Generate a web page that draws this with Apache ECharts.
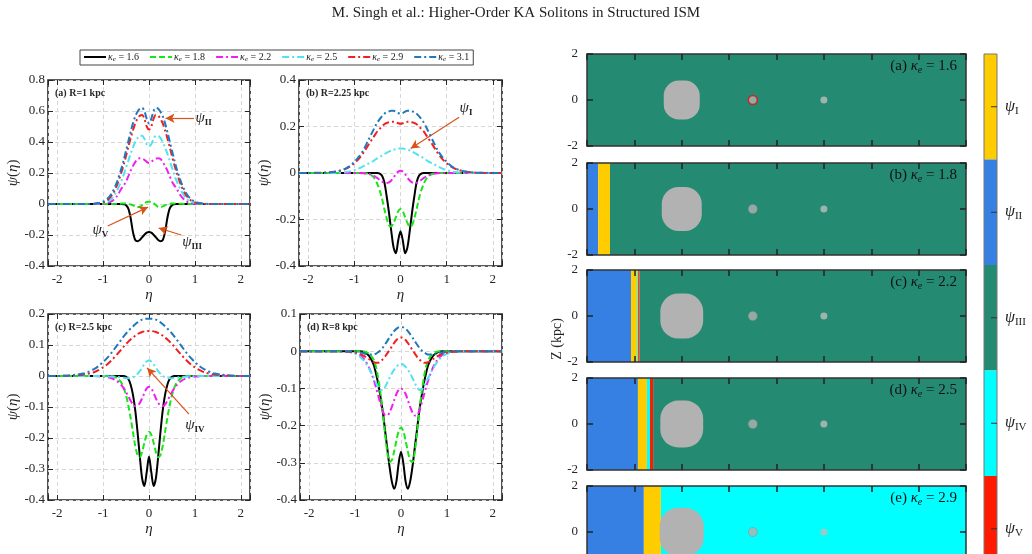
<!DOCTYPE html>
<html><head><meta charset="utf-8">
<script src="https://cdn.jsdelivr.net/npm/echarts@6/dist/echarts.min.js"></script>
<style>html,body{margin:0;padding:0;background:#fff}#c{width:1032px;height:554px}</style>
</head><body><div id="c"></div>
<script>
// ---------------- DATA ----------------
const eta = [-2.2,-2.0,-1.8,-1.6,-1.4,-1.2,-1.1,-1.0,-0.9,-0.8,-0.7,-0.6,-0.55,-0.5,-0.45,-0.4,-0.35,-0.3,-0.25,-0.2,-0.15,-0.1,-0.05,0,0.05,0.1,0.15,0.2,0.25,0.3,0.35,0.4,0.45,0.5,0.55,0.6,0.7,0.8,0.9,1.0,1.1,1.2,1.4,1.6,1.8,2.0,2.2];
const kappaVals = ['1.6','1.8','2.2','2.5','2.9','3.1'];

// panel (a) R = 1 kpc
const aK16 = [0,0,0,0,0,0,0,0,0,0,0,0,-0.002,-0.008,-0.03,-0.09,-0.18,-0.232,-0.24,-0.232,-0.215,-0.198,-0.185,-0.18,-0.185,-0.198,-0.215,-0.232,-0.24,-0.232,-0.18,-0.09,-0.03,-0.008,-0.002,0,0,0,0,0,0,0,0,0,0,0,0];
const aK18 = [0,0,0,0,0,0,0,0,0,0,0.001,0.003,0.004,0.003,0,-0.003,-0.008,-0.015,-0.02,-0.018,-0.008,0.005,0.013,0.015,0.013,0.005,-0.008,-0.018,-0.02,-0.015,-0.008,-0.003,0,0.003,0.004,0.003,0.001,0,0,0,0,0,0,0,0,0,0];
const aK22 = [0,0,0,0,0,0,0,0.002,0.007,0.02,0.05,0.1,0.12,0.145,0.18,0.215,0.245,0.27,0.29,0.295,0.293,0.285,0.272,0.265,0.272,0.285,0.293,0.295,0.29,0.27,0.245,0.215,0.18,0.145,0.12,0.1,0.05,0.02,0.007,0.002,0,0,0,0,0,0,0];
const aK25 = [0,0,0,0,0,0,0.002,0.006,0.016,0.04,0.085,0.15,0.19,0.235,0.28,0.325,0.365,0.4,0.425,0.44,0.44,0.42,0.385,0.372,0.385,0.42,0.44,0.44,0.425,0.4,0.365,0.325,0.28,0.235,0.19,0.15,0.085,0.04,0.016,0.006,0.002,0,0,0,0,0,0];
const aK29 = [0,0,0,0,0,0.001,0.004,0.01,0.026,0.06,0.12,0.205,0.255,0.31,0.37,0.425,0.475,0.52,0.55,0.57,0.575,0.55,0.5,0.48,0.5,0.55,0.575,0.57,0.55,0.52,0.475,0.425,0.37,0.31,0.255,0.205,0.12,0.06,0.026,0.01,0.004,0.001,0,0,0,0,0];
const aK31 = [0,0,0,0,0,0.002,0.006,0.015,0.035,0.075,0.14,0.23,0.285,0.345,0.405,0.465,0.52,0.565,0.595,0.615,0.62,0.6,0.55,0.52,0.55,0.6,0.62,0.615,0.595,0.565,0.52,0.465,0.405,0.345,0.285,0.23,0.14,0.075,0.035,0.015,0.006,0.002,0,0,0,0,0];

// panel (b) R = 2.25 kpc
const bK16 = [0,0,0,0,0,0,0,0,0,0,0,0,0,0,-0.003,-0.012,-0.04,-0.1,-0.17,-0.25,-0.32,-0.345,-0.29,-0.25,-0.29,-0.345,-0.32,-0.25,-0.17,-0.1,-0.04,-0.012,-0.003,0,0,0,0,0,0,0,0,0,0,0,0,0,0];
const bK18 = [0,0,0,0,0,0,0,0,0,0,-0.003,-0.014,-0.028,-0.048,-0.075,-0.11,-0.155,-0.195,-0.225,-0.23,-0.215,-0.19,-0.165,-0.155,-0.165,-0.19,-0.215,-0.23,-0.225,-0.195,-0.155,-0.11,-0.075,-0.048,-0.028,-0.014,-0.003,0,0,0,0,0,0,0,0,0,0];
const bK22 = [0,0,0,0,0,0,0,0,0,-0.001,-0.004,-0.01,-0.015,-0.022,-0.03,-0.037,-0.042,-0.043,-0.04,-0.032,-0.02,-0.005,0.006,0.01,0.006,-0.005,-0.02,-0.032,-0.04,-0.043,-0.042,-0.037,-0.03,-0.022,-0.015,-0.01,-0.004,-0.001,0,0,0,0,0,0,0,0,0];
const bK25 = [0,0,0,0,0.001,0.004,0.007,0.012,0.02,0.03,0.04,0.05,0.057,0.064,0.07,0.075,0.081,0.087,0.092,0.097,0.1,0.103,0.105,0.105,0.105,0.103,0.1,0.097,0.092,0.087,0.081,0.075,0.07,0.064,0.057,0.05,0.04,0.03,0.02,0.012,0.007,0.004,0.001,0,0,0,0];
const bK29 = [0,0,0,0.002,0.006,0.017,0.027,0.042,0.062,0.088,0.12,0.15,0.165,0.18,0.19,0.2,0.21,0.215,0.218,0.22,0.22,0.218,0.214,0.212,0.214,0.218,0.22,0.22,0.218,0.215,0.21,0.2,0.19,0.18,0.165,0.15,0.12,0.088,0.062,0.042,0.027,0.017,0.006,0.002,0,0,0];
const bK31 = [0,0,0.001,0.002,0.006,0.018,0.03,0.048,0.07,0.1,0.14,0.18,0.2,0.218,0.232,0.245,0.255,0.262,0.265,0.268,0.268,0.264,0.258,0.255,0.258,0.264,0.268,0.268,0.265,0.262,0.255,0.245,0.232,0.218,0.2,0.18,0.14,0.1,0.07,0.048,0.03,0.018,0.006,0.002,0.001,0,0];

// panel (c) R = 2.5 kpc
const cK16 = [0,0,0,0,0,0,0,0,0,0,0,0,0,-0.003,-0.01,-0.028,-0.06,-0.11,-0.18,-0.26,-0.33,-0.355,-0.31,-0.26,-0.31,-0.355,-0.33,-0.26,-0.18,-0.11,-0.06,-0.028,-0.01,-0.003,0,0,0,0,0,0,0,0,0,0,0,0,0];
const cK18 = [0,0,0,0,0,0,0,0,0,-0.001,-0.006,-0.022,-0.038,-0.062,-0.095,-0.135,-0.18,-0.225,-0.255,-0.262,-0.245,-0.215,-0.19,-0.18,-0.19,-0.215,-0.245,-0.262,-0.255,-0.225,-0.18,-0.135,-0.095,-0.062,-0.038,-0.022,-0.006,-0.001,0,0,0,0,0,0,0,0,0];
const cK22 = [0,0,0,0,0,0,-0.001,-0.002,-0.004,-0.008,-0.016,-0.03,-0.04,-0.052,-0.066,-0.08,-0.092,-0.097,-0.095,-0.087,-0.072,-0.055,-0.04,-0.035,-0.04,-0.055,-0.072,-0.087,-0.095,-0.097,-0.092,-0.08,-0.066,-0.052,-0.04,-0.03,-0.016,-0.008,-0.004,-0.002,-0.001,0,0,0,0,0,0];
const cK25 = [0,0,0,0,0,0,0,0,-0.001,-0.002,-0.003,-0.005,-0.006,-0.007,-0.007,-0.006,-0.004,0,0.007,0.016,0.027,0.038,0.047,0.05,0.047,0.038,0.027,0.016,0.007,0,-0.004,-0.006,-0.007,-0.007,-0.006,-0.005,-0.003,-0.002,-0.001,0,0,0,0,0,0,0,0];
const cK29 = [0,0,0.001,0.002,0.005,0.012,0.019,0.028,0.039,0.053,0.069,0.086,0.095,0.103,0.111,0.118,0.124,0.13,0.135,0.139,0.142,0.144,0.145,0.145,0.145,0.144,0.142,0.139,0.135,0.13,0.124,0.118,0.111,0.103,0.095,0.086,0.069,0.053,0.039,0.028,0.019,0.012,0.005,0.002,0.001,0,0];
const cK31 = [0,0,0.001,0.004,0.009,0.022,0.032,0.045,0.06,0.078,0.098,0.118,0.128,0.137,0.145,0.153,0.16,0.167,0.173,0.178,0.182,0.184,0.185,0.185,0.185,0.184,0.182,0.178,0.173,0.167,0.16,0.153,0.145,0.137,0.128,0.118,0.098,0.078,0.06,0.045,0.032,0.022,0.009,0.004,0.001,0,0];

// panel (d) R = 8 kpc
const dK16 = [0,0,0,0,0,0,0,0,0,-0.003,-0.012,-0.035,-0.057,-0.085,-0.12,-0.16,-0.21,-0.26,-0.31,-0.35,-0.37,-0.35,-0.3,-0.27,-0.3,-0.35,-0.37,-0.35,-0.31,-0.26,-0.21,-0.16,-0.12,-0.085,-0.057,-0.035,-0.012,-0.003,0,0,0,0,0,0,0,0,0];
const dK18 = [0,0,0,0,0,0,0,0,0,-0.001,-0.006,-0.022,-0.04,-0.07,-0.11,-0.16,-0.22,-0.27,-0.298,-0.293,-0.27,-0.24,-0.215,-0.205,-0.215,-0.24,-0.27,-0.293,-0.298,-0.27,-0.22,-0.16,-0.11,-0.07,-0.04,-0.022,-0.006,-0.001,0,0,0,0,0,0,0,0,0];
const dK22 = [0,0,0,0,0,-0.001,-0.002,-0.004,-0.01,-0.022,-0.043,-0.075,-0.095,-0.118,-0.14,-0.16,-0.172,-0.173,-0.165,-0.15,-0.132,-0.115,-0.104,-0.1,-0.104,-0.115,-0.132,-0.15,-0.165,-0.173,-0.172,-0.16,-0.14,-0.118,-0.095,-0.075,-0.043,-0.022,-0.01,-0.004,-0.002,-0.001,0,0,0,0,0];
const dK25 = [0,0,0,0,0,-0.001,-0.003,-0.007,-0.014,-0.027,-0.046,-0.07,-0.083,-0.095,-0.103,-0.104,-0.097,-0.085,-0.072,-0.06,-0.05,-0.042,-0.036,-0.034,-0.036,-0.042,-0.05,-0.06,-0.072,-0.085,-0.097,-0.104,-0.103,-0.095,-0.083,-0.07,-0.046,-0.027,-0.014,-0.007,-0.003,-0.001,0,0,0,0,0];
const dK29 = [0,0,0,0,0,-0.001,-0.002,-0.004,-0.007,-0.013,-0.021,-0.029,-0.031,-0.031,-0.028,-0.022,-0.015,-0.006,0.003,0.013,0.022,0.03,0.035,0.037,0.035,0.03,0.022,0.013,0.003,-0.006,-0.015,-0.022,-0.028,-0.031,-0.031,-0.029,-0.021,-0.013,-0.007,-0.004,-0.002,-0.001,0,0,0,0,0];
const dK31 = [0,0,0,0,0,0,-0.001,-0.002,-0.003,-0.006,-0.009,-0.009,-0.007,-0.003,0.002,0.009,0.018,0.027,0.037,0.046,0.054,0.06,0.064,0.065,0.064,0.06,0.054,0.046,0.037,0.027,0.018,0.009,0.002,-0.003,-0.007,-0.009,-0.009,-0.006,-0.003,-0.002,-0.001,0,0,0,0,0,0];

const leftPanelNames = ['(a) R=1 kpc','(b) R=2.25 kpc','(c) R=2.5 kpc','(d) R=8 kpc'];
const leftYMin = [-0.4,-0.4,-0.4,-0.4];
const leftYMax = [0.8,0.4,0.2,0.1];
const leftYStep = [0.2,0.2,0.1,0.1];
const leftSeries = [[aK16,aK18,aK22,aK25,aK29,aK31],[bK16,bK18,bK22,bK25,bK29,bK31],[cK16,cK18,cK22,cK25,cK29,cK31],[dK16,dK18,dK22,dK25,dK29,dK31]];

// annotation arrows: [fromEta, fromPsi, toEta, toPsi, labelEta, labelPsi, subscript]
const annotA = [[0.98,0.553,0.36,0.553,1.19,0.553,'II'],[-0.9,-0.142,-0.02,-0.02,-1.06,-0.168,'V'],[0.7,-0.2,0.21,-0.155,0.94,-0.245,'III']];
const annotB = [[1.27,0.24,0.22,0.105,1.42,0.278,'I']];
const annotC = [[0.87,-0.123,-0.04,0.026,1.0,-0.159,'IV']];
const annotD = [];
const annots = [annotA, annotB, annotC, annotD];

// right column: kappa_e per panel, region bands [x0, x1, psiIndex]
const psiNames = ['I','II','III','IV','V'];
const rightKappa = ['1.6','1.8','2.2','2.5','2.9'];
const rightLetters = ['a','b','c','d','e'];
const regionsA = [[0,16,2]];
const regionsB = [[0,0.47,1],[0.47,0.97,0],[0.97,16,2]];
const regionsC = [[0,1.86,1],[1.86,2.12,0],[2.12,2.16,3],[2.16,2.22,4],[2.22,16,2]];
const regionsD = [[0,2.15,1],[2.15,2.53,0],[2.53,2.66,3],[2.66,2.79,4],[2.79,16,2]];
const regionsE = [[0,2.4,1],[2.4,3.12,0],[3.12,16,3]];
const rightRegions = [regionsA, regionsB, regionsC, regionsD, regionsE];
// central bulge [x, z, width, height]
const bulgeX = [4,4,4,4,4];
const bulgeW = [1.52,1.69,1.81,1.81,1.86];
const bulgeH = [1.7,1.91,1.96,2.04,2.1];
const clumpX = 7;
const dotX = 10;
const zRange = [-2, 2];
const xRangeRight = [0, 16];

// ---------------- STYLE ----------------
const serif = "'Liberation Serif','DejaVu Serif',serif";
const ink = '#262626';
const lineColors = ['#000000','#19E619','#F01EF0','#4FE3F0','#F02020','#1F78C0'];
const lineTypes = ['solid',[6,3],[7,3,2,3],[7,3,2,3],[7,3,2,3],[7,3,2,3]];
const psiColors = ['#FFCC00','#3580E2','#258A72','#00FFFF','#FF1A00'];
const leftBoxes = [[48,80,202,186],[299,80,203,186],[48,314,202,186],[300,314,202,186]];
const rightTops = [54,163,270,378,486];

const grids = [], xAxes = [], yAxes = [], series = [], titles = [];
titles.push({text:'M. Singh et al.: Higher-Order KA Solitons in Structured ISM', left:'center', top:6, padding:0,
  textStyle:{fontFamily:serif, fontSize:15, fontWeight:'normal', color:'#222'}});

const psiRich = {p:{fontFamily:serif, fontStyle:'italic', fontSize:15, color:'#222'}, s:{fontFamily:serif, fontSize:9, fontWeight:'bold', color:'#222', padding:[9,0,0,0]}};
const noLine = {show:false, onZero:false};

leftBoxes.forEach((b, i) => {
  grids.push({left:b[0], top:b[1], width:b[2], height:b[3], show:true, borderColor:ink, borderWidth:1.6, backgroundColor:'rgba(0,0,0,0)', outerBoundsMode:'none'});
  const tick = {show:true, inside:true, length:5, lineStyle:{color:ink, width:1}};
  xAxes.push({type:'value', gridIndex:i, min:-2.2, max:2.2, splitNumber:5, axisLine:noLine, axisTick:tick,
    axisLabel:{color:ink, fontFamily:serif, fontSize:13, margin:7, formatter:v => Math.abs(v-Math.round(v))<1e-6 ? String(Math.round(v)) : ''},
    splitLine:{show:true, lineStyle:{color:'#d6d6d6', type:[4,3], width:1}},
    name:'η', nameLocation:'middle', nameGap:22, nameTextStyle:{fontFamily:serif, fontStyle:'italic', fontSize:15, color:ink}});
  xAxes.push({type:'value', gridIndex:i, position:'top', min:-2.2, max:2.2, splitNumber:5, axisLine:noLine, axisTick:tick, axisLabel:{show:false}, splitLine:{show:false}});
  yAxes.push({type:'value', gridIndex:i, min:leftYMin[i], max:leftYMax[i], interval:leftYStep[i], axisLine:noLine, axisTick:tick,
    axisLabel:{color:ink, fontFamily:serif, fontSize:13, margin:3, formatter:v => {const r = Math.round(v*10)/10; return r===0 ? '0' : String(r);}},
    splitLine:{show:true, lineStyle:{color:'#d6d6d6', type:[4,3], width:1}},
    name:'{i|ψ}{n|(}{i|η}{n|)}', nameLocation:'middle', nameRotate:90, nameGap:26,
    nameTextStyle:{rich:{i:{fontFamily:serif, fontStyle:'italic', fontSize:15, color:ink}, n:{fontFamily:serif, fontSize:15, color:ink}}}});
  yAxes.push({type:'value', gridIndex:i, position:'right', min:leftYMin[i], max:leftYMax[i], interval:leftYStep[i], axisLine:noLine, axisTick:tick, axisLabel:{show:false}, splitLine:{show:false}});

  leftSeries[i].forEach((arr, k) => {
    const s = {type:'line', name:kappaVals[k], xAxisIndex:2*i, yAxisIndex:2*i, data:eta.map((x, j) => [x, arr[j]]),
      symbol:'none', showSymbol:false, smooth:0.3, silent:true, z:2+k,
      lineStyle:{color:lineColors[k], width:2, type:lineTypes[k]}, itemStyle:{color:lineColors[k]}};
    if (k === 5 && annots[i].length) {
      s.markLine = {silent:true, symbol:['none','arrow'], symbolSize:[7,9], label:{show:false}, animation:false,
        lineStyle:{color:'#D95319', width:1.2, type:'solid'},
        data: annots[i].map(a => [{coord:[a[0], a[1]]}, {coord:[a[2], a[3]]}])};
      s.markPoint = {silent:true, symbol:'circle', symbolSize:1, itemStyle:{color:'rgba(0,0,0,0)'}, animation:false,
        data: annots[i].map(a => ({coord:[a[4], a[5]], value:a[6],
          label:{show:true, position:'inside', formatter:'{p|ψ}{s|' + a[6] + '}', rich:psiRich}}))};
    }
    series.push(s);
  });
  titles.push({text:leftPanelNames[i], left:b[0]+7, top:b[1]+8, padding:0, textStyle:{fontFamily:serif, fontWeight:'bold', fontSize:10, color:ink}});
});

// right column
rightTops.forEach((top, j) => {
  const gi = 4 + j;
  grids.push({left:587, top:top, width:379, height:92, show:true, borderColor:'#333', borderWidth:1.5, backgroundColor:'rgba(0,0,0,0)', z:5, outerBoundsMode:'none'});
  const tick = {show:true, inside:true, length:6, lineStyle:{color:'#222', width:1.5}};
  const xi = xAxes.length, yi = yAxes.length;
  xAxes.push({type:'value', gridIndex:gi, min:xRangeRight[0], max:xRangeRight[1], interval:2, axisLine:noLine, axisTick:tick, axisLabel:{show:false}, splitLine:{show:false}, z:6});
  xAxes.push({type:'value', gridIndex:gi, position:'top', min:xRangeRight[0], max:xRangeRight[1], interval:2, axisLine:noLine, axisTick:tick, axisLabel:{show:false}, splitLine:{show:false}, z:6});
  yAxes.push({type:'value', gridIndex:gi, min:zRange[0], max:zRange[1], interval:2, axisLine:noLine, axisTick:tick,
    axisLabel:{color:ink, fontFamily:serif, fontSize:13, margin:9}, splitLine:{show:false}, z:6});
  yAxes.push({type:'value', gridIndex:gi, position:'right', min:zRange[0], max:zRange[1], interval:2, axisLine:noLine, axisTick:tick, axisLabel:{show:false}, splitLine:{show:false}, z:6});

  series.push({type:'custom', xAxisIndex:xi, yAxisIndex:yi, silent:true, z:1, encode:{x:[0,1]},
    data: rightRegions[j],
    renderItem:(params, api) => {
      const p0 = api.coord([api.value(0), zRange[1]]);
      const p1 = api.coord([api.value(1), zRange[0]]);
      return {type:'rect', shape:{x:p0[0], y:p0[1], width:p1[0]-p0[0], height:p1[1]-p0[1]}, style:{fill:psiColors[api.value(2)]}};
    }});
  series.push({type:'custom', xAxisIndex:xi, yAxisIndex:yi, silent:true, z:2, encode:{x:0, y:1},
    data: [[bulgeX[j], 0, bulgeW[j], bulgeH[j]]],
    renderItem:(params, api) => {
      const c = api.coord([api.value(0), api.value(1)]);
      const s = api.size([api.value(2), api.value(3)]);
      return {type:'rect', shape:{x:c[0]-s[0]/2, y:c[1]-s[1]/2, width:s[0], height:s[1], r:Math.min(s[0], s[1])*0.42}, style:{fill:'#B2B2B2'}};
    }});
  series.push({type:'scatter', xAxisIndex:xi, yAxisIndex:yi, silent:true, z:3, data:[[clumpX, 0]], symbolSize:9,
    itemStyle:{color:'#B2B2B2', borderColor: j===0 ? '#E01010' : '#8a8a8a', borderWidth: j===0 ? 1.5 : 0.6}});
  series.push({type:'scatter', xAxisIndex:xi, yAxisIndex:yi, silent:true, z:3, data:[[dotX, 0]], symbolSize:7, itemStyle:{color:'#BDBDBD'}});

  titles.push({text:'{t|(' + rightLetters[j] + ') }{k|κ}{e|e}{t| = ' + rightKappa[j] + '}', right:75, top:top+3, padding:0,
    textStyle:{fontWeight:'normal', rich:{t:{fontFamily:serif, fontSize:15, fontWeight:'normal', color:'#111'}, k:{fontFamily:serif, fontStyle:'italic', fontWeight:'normal', fontSize:15, color:'#111'},
      e:{fontFamily:serif, fontStyle:'italic', fontWeight:'normal', fontSize:10, color:'#111', padding:[8,0,0,0]}}}});
});

// colorbar
grids.push({left:984, top:54, width:13, height:527.5, show:true, borderColor:'#777', borderWidth:1, backgroundColor:'rgba(0,0,0,0)', z:5, outerBoundsMode:'none'});
const cbx = xAxes.length, cby = yAxes.length;
xAxes.push({type:'value', gridIndex:9, min:0, max:1, show:false});
yAxes.push({type:'category', gridIndex:9, data:psiNames, inverse:true, position:'right', axisLine:{show:false, onZero:false},
  axisTick:{show:false},
  axisLabel:{margin:8, formatter:v => '{p|ψ}{s|' + v + '}', rich:{p:{fontFamily:serif, fontStyle:'italic', fontSize:16, color:'#222'}, s:{fontFamily:serif, fontSize:11, color:'#222', padding:[8,0,0,0]}}},
  splitLine:{show:false}, z:6});
series.push({type:'bar', xAxisIndex:cbx, yAxisIndex:cby, silent:true, barWidth:'100%', barCategoryGap:'0%',
  data: psiNames.map((n, i) => ({value:1, itemStyle:{color:psiColors[i]}}))});
// colorbar ticks on the inner right edge, placed through the colorbar's own axes
series.push({type:'custom', xAxisIndex:cbx, yAxisIndex:cby, silent:true, z:7, encode:{y:0},
  data: psiNames.map(n => [n]),
  renderItem:(params, api) => {
    const p = api.coord([1, api.value(0)]);
    return {type:'line', shape:{x1:p[0]-6, y1:p[1], x2:p[0], y2:p[1]}, style:{stroke:'#333', lineWidth:1}};
  }});

const chart = echarts.init(document.getElementById('c'), null, {renderer:'canvas'});
chart.setOption({
  animation:false,
  backgroundColor:'#ffffff',
  title: titles,
  legend: {left:80, top:50, orient:'horizontal', data:kappaVals, itemWidth:22, itemHeight:10, itemGap:10,
    padding:[2,4,2,3], borderColor:'#444', borderWidth:1, selectedMode:false,
    itemStyle:{opacity:0},
    formatter: n => '{k|κ}{e|e}{t| = ' + n + '}',
    textStyle:{padding:[0,0,0,-3], rich:{k:{fontFamily:serif, fontStyle:'italic', fontSize:10, color:'#222'},
      e:{fontFamily:serif, fontStyle:'italic', fontSize:7, color:'#222', padding:[5,0,0,0]},
      t:{fontFamily:serif, fontSize:10, color:'#222'}}}},
  grid: grids,
  xAxis: xAxes,
  yAxis: yAxes,
  series: series,
  graphic: [{type:'text', x:557, y:339, rotation:Math.PI/2,
    style:{text:'Z (kpc)', fontFamily:serif, fontSize:14, fill:'#222', align:'center', verticalAlign:'middle'}}]
});
</script></body></html>
